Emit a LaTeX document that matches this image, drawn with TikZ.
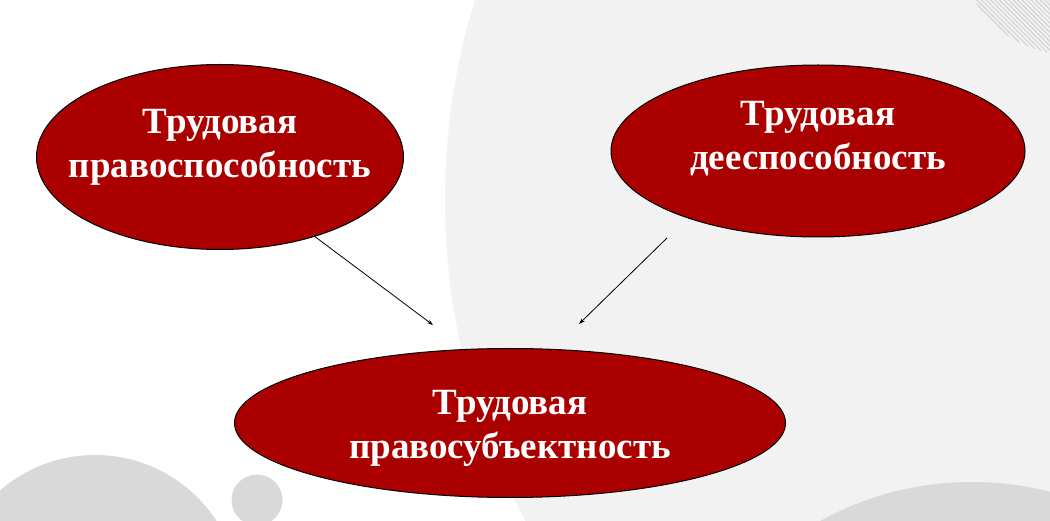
\documentclass[tikz,border=0pt]{standalone}
\usepackage{fontspec}
\setmainfont{Liberation Serif}
\usetikzlibrary{shapes.geometric,arrows.meta,patterns.meta}
\definecolor{ovalred}{RGB}{170,0,0}
\definecolor{bglight}{RGB}{242,242,242}
\definecolor{bgmid}{RGB}{217,217,217}
\definecolor{hatchgray}{RGB}{208,208,208}
\tikzset{
  oval/.style={ellipse, draw=black, line width=1pt, fill=ovalred, inner sep=0pt, outer sep=0pt},
  ovaltext/.style={text=white, font=\bfseries\fontsize{37}{44}\selectfont, align=center, inner sep=0pt},
  link/.style={draw=black, line width=0.8pt, -{Stealth[length=6pt,width=4pt]}}
}
\begin{document}
\begin{tikzpicture}[x=1pt,y=-1pt]
\useasboundingbox (0,0) rectangle (1050,521);
\begin{scope}
\clip (0,0) rectangle (1050,521);
\fill[white] (0,0) rectangle (1050,521);
\fill[bglight] (1125,200) circle[radius=680];
\fill[pattern={Lines[angle=-45,distance=3.2pt,line width=1pt]}, pattern color=hatchgray] (1068,-55) circle[radius=109];
\fill[bgmid] (972,797) circle[radius=315];
\fill[bgmid] (95,600) circle[radius=145];
\fill[bgmid] (257,500) circle[radius=25.5];
\end{scope}
\node[oval, minimum width=367pt, minimum height=185pt] (e1) at (220,157) {};
\node[oval, minimum width=414pt, minimum height=172pt] (e2) at (818,151) {};
\node[oval, minimum width=551pt, minimum height=149pt] (e3) at (510,423) {};
\node[ovaltext] (t1) at (220,147) {Трудовая\\правоспособность};
\node[ovaltext] (t2) at (818,139) {Трудовая\\дееспособность};
\node[ovaltext] (t3) at (510,428) {Трудовая\\правосубъектность};
\coordinate (a1end) at (433,325);
\coordinate (a2start) at (667,238);
\coordinate (a2end) at (579,324);
\draw[link] (e1.-40.7) -- (a1end);
\draw[link] (a2start) -- (a2end);
\end{tikzpicture}
\end{document}
